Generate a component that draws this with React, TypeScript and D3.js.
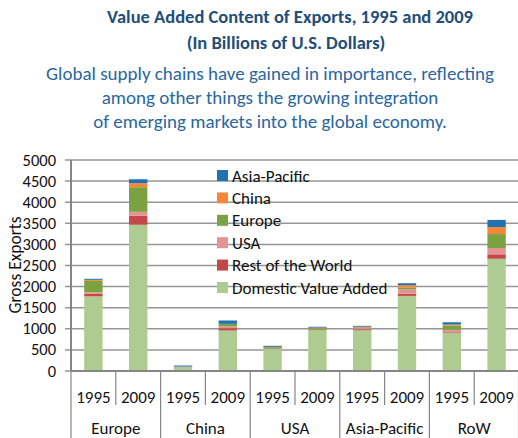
import React from "react";
import * as d3 from "d3";

const regions = ["Europe", "China", "USA", "Asia-Pacific", "RoW"];
const years = ["1995", "2009"];

// bar order: Europe 1995, Europe 2009, China 1995, ...
const domestic = [1770, 3465, 92, 960, 520, 968, 965, 1780, 910, 2660];
const restOfWorld = [65, 212, 4, 55, 15, 15, 25, 50, 15, 105];
const usa = [30, 95, 5, 40, 0, 0, 25, 110, 50, 150];
const europe = [270, 583, 6, 62, 30, 30, 20, 40, 100, 330];
const china = [25, 95, 0, 0, 7, 15, 15, 55, 25, 165];
const asiaPacific = [25, 94, 23, 80, 25, 20, 20, 45, 55, 170];

const seriesNames = ["Domestic Value Added", "Rest of the World", "USA", "Europe", "China", "Asia-Pacific"];
const seriesValues = [domestic, restOfWorld, usa, europe, china, asiaPacific];
const seriesColors = ["#AECB91", "#C4474A", "#E59395", "#7AA241", "#F5863A", "#2173B0"];

const yTicks = [0, 500, 1000, 1500, 2000, 2500, 3000, 3500, 4000, 4500, 5000];

const FONT = "Carlito, Calibri, Lato, sans-serif";

export default function App() {
  const W = 518, H = 438;
  const left = 71, right = 519, top = 160, bottom = 371;

  const keys = regions.flatMap((r) => years.map((y) => `${r}|${y}`));
  const rows = keys.map((k, i) => {
    const o: any = { key: k };
    seriesNames.forEach((s, j) => (o[s] = seriesValues[j][i]));
    return o;
  });
  const stacked = d3.stack<any>().keys(seriesNames)(rows);

  const x = d3.scaleBand<string>().domain(keys).range([left, right]).paddingInner(0).paddingOuter(0);
  const bw = x.bandwidth() * 0.41;
  const y = d3.scaleLinear().domain([0, 5000]).range([bottom, top]);

  const groupX = d3.scaleBand<string>().domain(regions).range([left, right]);

  const legendOrder = ["Asia-Pacific", "China", "Europe", "USA", "Rest of the World", "Domestic Value Added"];

  return (
    <svg width={W} height={H} style={{ position: "absolute", left: 0, top: 0 }} fontFamily={FONT}>
      <rect width={W} height={H} fill="#fff" />
      <text x={290} y={23} textAnchor="middle" fontSize={18.5} fontWeight="bold" fill="#1F4E79">
        Value Added Content of Exports, 1995 and 2009
      </text>
      <text x={286} y={49} textAnchor="middle" fontSize={18.5} fontWeight="bold" fill="#1F4E79">
        (In Billions of U.S. Dollars)
      </text>
      {[
        "Global supply chains have gained in importance, reflecting",
        "among other things the growing integration",
        "of emerging markets into the global economy.",
      ].map((t, i) => (
        <text key={i} x={270} y={80 + i * 24} textAnchor="middle" fontSize={19} fill="#2A66A0">
          {t}
        </text>
      ))}

      {/* gridlines */}
      {yTicks.map((t) => (
        <g key={t}>
          <line x1={left - 6} x2={W} y1={y(t)} y2={y(t)} stroke="#969696" strokeWidth={1.5} />
          <text x={56} y={y(t) + 5.5} textAnchor="end" fontSize={16.5} fill="#111">
            {t}
          </text>
        </g>
      ))}

      {/* bars */}
      {stacked.map((s, si) =>
        s.map((d, i) => (
          <rect
            key={`${si}-${i}`}
            x={(x(keys[i]) as number) + (x.bandwidth() - bw) / 2}
            y={y(d[1])}
            width={bw}
            height={Math.max(0, y(d[0]) - y(d[1]))}
            fill={seriesColors[si]}
          />
        ))
      )}

      {/* axes */}
      <line x1={left} x2={left} y1={top} y2={bottom} stroke="#868686" strokeWidth={2} />
      <line x1={left} x2={W} y1={bottom} y2={bottom} stroke="#868686" strokeWidth={2} />
      {keys.map((k, i) => (
        <line key={k} x1={x(k) as number} x2={x(k) as number} y1={bottom} y2={i % 2 === 0 ? H : 405} stroke="#868686" strokeWidth={1.2} />
      ))}
      <line x1={right - 0.5} x2={right - 0.5} y1={bottom} y2={H} stroke="#868686" strokeWidth={1.2} />
      {keys.map((k) => (
        <text key={k} x={(x(k) as number) + x.bandwidth() / 2} y={403} textAnchor="middle" fontSize={17} fill="#111">
          {k.split("|")[1]}
        </text>
      ))}
      {regions.map((r) => (
        <text key={r} x={(groupX(r) as number) + groupX.bandwidth() / 2} y={434} textAnchor="middle" fontSize={17} fill="#111">
          {r}
        </text>
      ))}

      <text transform={`translate(21,${265}) rotate(-90)`} textAnchor="middle" fontSize={17.5} fill="#111">
        Gross Exports
      </text>

      {/* legend */}
      {legendOrder.map((name, i) => {
        const cy = 175.5 + i * 22.4;
        const ci = seriesNames.indexOf(name);
        return (
          <g key={name}>
            <rect x={217} y={cy - 5.5} width={11} height={11} fill={seriesColors[ci]} />
            <text x={232} y={cy + 6} fontSize={17} fill="#111">
              {name}
            </text>
          </g>
        );
      })}
    </svg>
  );
}
